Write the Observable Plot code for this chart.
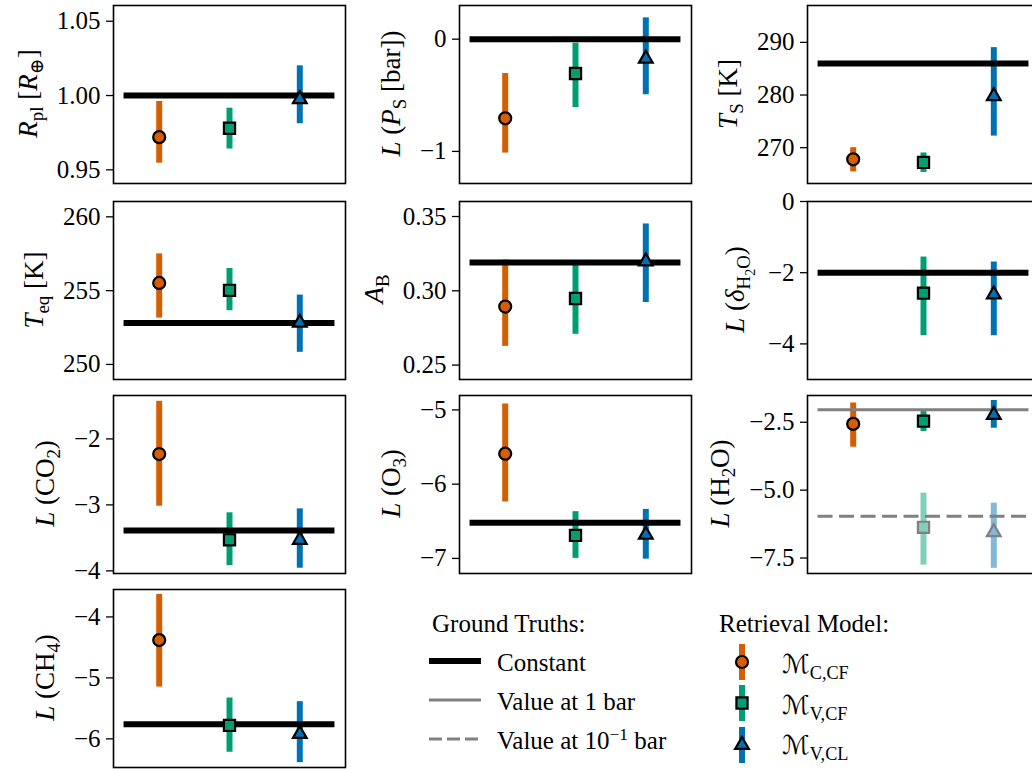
<!DOCTYPE html>
<html><head><meta charset="utf-8">
<script src="https://cdn.jsdelivr.net/npm/d3@7"></script>
<script src="https://cdn.jsdelivr.net/npm/@observablehq/plot@0.6"></script>
<style>
html,body{margin:0;padding:0;background:#fff;}
#fig{position:relative;width:1032px;height:769px;overflow:hidden;background:#fff;font-family:"Liberation Serif",serif;}
</style></head><body><div id="fig"></div>
<script>
// ---------- data ----------
const paramKeys = ["Rpl","Ps","Ts","Teq","AB","dH2O","CO2","O3","H2O","CH4"];
const modelKeys = ["C,CF","V,CF","V,CL"];
const modelX = [1, 2, 3];
const truthSpan = [0.5, 3.5];

const medCCF = [0.972, -0.705, 267.8, 255.52, 0.2894, null, -2.23, -5.59, -2.56, -4.38];
const loCCF  = [0.9545, -1.015, 265.4, 253.14, 0.2626, null, -3.02, -6.24, -3.42, -5.15];
const hiCCF  = [0.996, -0.306, 270.0, 257.49, 0.3207, null, -1.43, -4.92, -1.79, -3.63];

const medVCF = [0.978, -0.306, 267.2, 255.02, 0.2948, -2.575, -3.53, -6.69, -2.46, -5.78];
const loVCF  = [0.964, -0.61, 265.3, 253.64, 0.2707, -3.77, -3.92, -7.0, -2.84, -6.22];
const hiVCF  = [0.9915, -0.036, 269.0, 256.5, 0.3176, -1.56, -3.12, -6.37, -2.04, -5.33];

const medVCL = [0.9976, -0.174, 279.8, 252.83, 0.3198, -2.61, -3.53, -6.68, -2.23, -5.92];
const loVCL  = [0.981, -0.495, 272.2, 250.82, 0.2921, -3.77, -3.96, -7.01, -2.72, -6.39];
const hiVCL  = [1.020, 0.19, 289.0, 254.7, 0.3450, -1.70, -3.06, -6.34, -1.70, -5.39];

const truth = [1.00, 0, 286.0, 252.8, 0.319, -2, -3.39, -6.52, -2.04, -5.76];

// H2O at 10^-1 bar
const h2oTopModels = ["V,CF","V,CL"];
const h2oTopMed = [-6.37, -6.55];
const h2oTopLo  = [-7.76, -7.88];
const h2oTopHi  = [-5.11, -5.48];
const h2oTopTruth = -5.96;

const yDomains = [[0.9408,1.0606],[-1.286,0.30],[263.2,297.0],[248.98,261.04],[0.2403,0.3601],
                  [-5,0],[-4.04,-1.342],[-7.203,-4.806],[-8.07,-1.515],[-6.47,-3.55]];
const yTicks = [[0.95,1.00,1.05],[-1,0],[270,280,290],[250,255,260],[0.25,0.30,0.35],
                [-4,-2,0],[-4,-3,-2],[-7,-6,-5],[-7.5,-5,-2.5],[-6,-5,-4]];
const yFormats = [".2f","d","d","d",".2f","d","d","d",".1f","d"];

const labelParts = [
  [["R","i"],["pl","s"],[" ["],["R","i"],["⊕","s"],["]"]],
  [["L","i"],[" ("],["P","i"],["S","s"],[" [bar])"]],
  [["T","i"],["S","s"],[" [K]"]],
  [["T","i"],["eq","s"],[" [K]"]],
  [["A","i"],["B","s"]],
  [["L","i"],[" ("],["δ","i"],["H","s"],["2","ss"],["O","s"],[")"]],
  [["L","i"],[" (CO"],["2","s"],[")"]],
  [["L","i"],[" (O"],["3","s"],[")"]],
  [["L","i"],[" (H"],["2","s"],["O)"]],
  [["L","i"],[" (CH"],["4","s"],[")"]]
];
const truthLegend = ["Constant","Value at 1 bar","Value at 10^-1 bar"];
const modelLegend = ["C,CF","V,CF","V,CL"];

// ---------- styles ----------
const colors = {"C,CF":"#d55e00","V,CF":"#009e73","V,CL":"#0072b2"};
const lightColors = {"C,CF":"#eaae80","V,CF":"#80cfb9","V,CL":"#80b9d9"};
const symbols = {"C,CF":"circle","V,CF":"square","V,CL":"triangle"};
const radii = {"C,CF":6,"V,CF":6.3,"V,CL":5.1};
const colLeft=[113,459,807], rowTop=[5,201,395,589], frameW=232, frameH=178;
const mL=110, mT=2, mR=2, mB=2;
const FONT = '"Liberation Serif", "DejaVu Serif", serif';
const TICK_FS = 25, LABEL_FS = 27, LEG_FS = 25;

function richText(sel, parts, size) {
  const text = sel.append("text").style("font-size", size+"px").style("font-family", FONT).attr("fill","black");
  let cur = 0;
  for (const [t, st=""] of parts) {
    const flags = st.split("");
    const level = st.includes("ss") ? 2 : flags.includes("s") ? 1 : flags.includes("p") ? -1 : 0;
    const off = level===2 ? 0.42*size : level===1 ? 0.22*size : level===-1 ? -0.38*size : 0;
    const fs = level===0 ? size : level===2 ? size*0.52 : size*0.7;
    const ts = text.append("tspan").attr("dy", off-cur).style("font-size", fs+"px").text(t);
    if (flags.includes("i")) ts.style("font-style","italic");
    if (flags.includes("m")) ts.style("font-family",'"DejaVu Serif","DejaVu Sans",serif').style("font-style","italic");
    cur = off;
  }
  return text;
}

const fig = document.getElementById("fig");
const medians=[medCCF,medVCF,medVCL], lowers=[loCCF,loVCF,loVCL], uppers=[hiCCF,hiVCF,hiVCL];

paramKeys.forEach((key,i)=>{
  const row = Math.floor(i/3), col = i%3;
  const rows = modelKeys.map((m,j)=>({model:m, x:modelX[j], med:medians[j][i], lo:lowers[j][i], hi:uppers[j][i]}))
                        .filter(d=>d.med!=null);
  const isH2O = key==="H2O";
  const top = isH2O ? h2oTopModels.map((m,k)=>({model:m, x:modelX[modelKeys.indexOf(m)], med:h2oTopMed[k], lo:h2oTopLo[k], hi:h2oTopHi[k]})) : [];
  const marks = [
    Plot.ruleX(top, {x:"x", y1:"lo", y2:"hi", stroke:d=>lightColors[d.model], strokeWidth:6}),
    Plot.ruleX(rows, {x:"x", y1:"lo", y2:"hi", stroke:d=>colors[d.model], strokeWidth:6})
  ];
  if (isH2O) {
    marks.push(Plot.ruleY([truth[i]], {x1:truthSpan[0], x2:truthSpan[1], stroke:"#808080", strokeWidth:3}));
    marks.push(Plot.ruleY([h2oTopTruth], {x1:truthSpan[0], x2:truthSpan[1], stroke:"#808080", strokeWidth:3, strokeDasharray:"15,6.5"}));
  } else {
    marks.push(Plot.ruleY([truth[i]], {x1:truthSpan[0], x2:truthSpan[1], stroke:"black", strokeWidth:6}));
  }
  for (const m of modelKeys) {
    const t = top.filter(d=>d.model===m);
    if (t.length) marks.push(Plot.dot(t, {x:"x", y:"med", symbol:symbols[m], r:radii[m], fill:lightColors[m], stroke:"#808080", strokeWidth:2.2}));
    const r = rows.filter(d=>d.model===m);
    if (r.length) marks.push(Plot.dot(r, {x:"x", y:"med", symbol:symbols[m], r:radii[m], fill:colors[m], stroke:"black", strokeWidth:2.2}));
  }
  marks.push(Plot.frame({stroke:"black", strokeWidth:1.6}));
  marks.push(Plot.axisY({ticks:yTicks[i], tickFormat:d3.format(yFormats[i]), tickSize:7, tickPadding:6, strokeWidth:1.3, label:null}));

  const plot = Plot.plot({
    width: mL+frameW+mR, height: mT+frameH+mB,
    marginLeft:mL, marginRight:mR, marginTop:mT, marginBottom:mB,
    x: {domain:[0.35,3.65], axis:null},
    y: {domain:yDomains[i], label:null},
    color: {type:"identity"},
    marks
  });
  plot.style.position = "absolute";
  plot.style.left = (colLeft[col]-mL)+"px";
  plot.style.top = (rowTop[row]-mT)+"px";
  plot.style.background = "transparent";
  plot.style.overflow = "visible";
  fig.appendChild(plot);
  // force fonts on the tick labels
  d3.select(plot).style("font-family", FONT).style("font-size", TICK_FS+"px").attr("fill","black");
  d3.select(plot).selectAll("text").style("font-family", FONT).style("font-size", TICK_FS+"px").style("fill","black");
  d3.select(plot).selectAll("g").each(function(){ if (this.hasAttribute("font-size")) this.removeAttribute("font-size"); if (this.hasAttribute("font-family")) this.removeAttribute("font-family"); });

  // y label (rich text with subscripts)
  const svgRect = plot.getBoundingClientRect();
  let minX = Infinity;
  plot.querySelectorAll("text").forEach(t=>{ const r=t.getBoundingClientRect(); if (r.width>0) minX=Math.min(minX, r.left-svgRect.left); });
  const g = d3.select(plot).append("g");
  const txt = richText(g, labelParts[i], LABEL_FS).attr("text-anchor","middle");
  const bb = txt.node().getBBox();
  const cy = mT + frameH/2;
  const x = minX - 10 - (bb.y + bb.height);
  g.attr("transform", `translate(${x},${cy + bb.x + bb.width/2}) rotate(-90)`);
});

// ---------- legend ----------
const leg = d3.select(fig).append("svg")
  .attr("width",1032).attr("height",769)
  .style("position","absolute").style("left","0px").style("top","0px")
  .style("font-family", FONT);
richText(leg, [["Ground Truths:"]], LEG_FS).attr("x",432).attr("y",632);
const lineYs = [661,700,739], textYs=[671,710,749];
const lineStyles = [{stroke:"black",w:6,dash:null},{stroke:"#808080",w:3,dash:null},{stroke:"#808080",w:3,dash:"13,5"}];
truthLegend.forEach((lab,k)=>{
  leg.append("line").attr("x1",429).attr("x2",481).attr("y1",lineYs[k]).attr("y2",lineYs[k])
    .attr("stroke",lineStyles[k].stroke).attr("stroke-width",lineStyles[k].w).attr("stroke-dasharray",lineStyles[k].dash);
  const parts = lab.includes("^") ? [["Value at 10"],["−1","p"],[" bar"]] : [[lab]];
  richText(leg, parts, LEG_FS).attr("x",497).attr("y",textYs[k]);
});
richText(leg, [["Retrieval Model:"]], LEG_FS).attr("x",719).attr("y",632);
const mYs=[662,703,745], mTextYs=[673,714,754];
modelLegend.forEach((m,k)=>{
  leg.append("line").attr("x1",742).attr("x2",742).attr("y1",mYs[k]-18).attr("y2",mYs[k]+18)
    .attr("stroke",colors[m]).attr("stroke-width",6);
  const sym = {circle:d3.symbolCircle, square:d3.symbolSquare, triangle:d3.symbolTriangle}[symbols[m]];
  leg.append("path").attr("d", d3.symbol(sym, radii[m]*radii[m]*Math.PI)())
    .attr("transform",`translate(742,${mYs[k]})`).attr("fill",colors[m]).attr("stroke","black").attr("stroke-width",2.2);
  richText(leg, [["ℳ","m"],[m,"s"]], LEG_FS+1).attr("x",782).attr("y",mTextYs[k]);
});
</script></body></html>
